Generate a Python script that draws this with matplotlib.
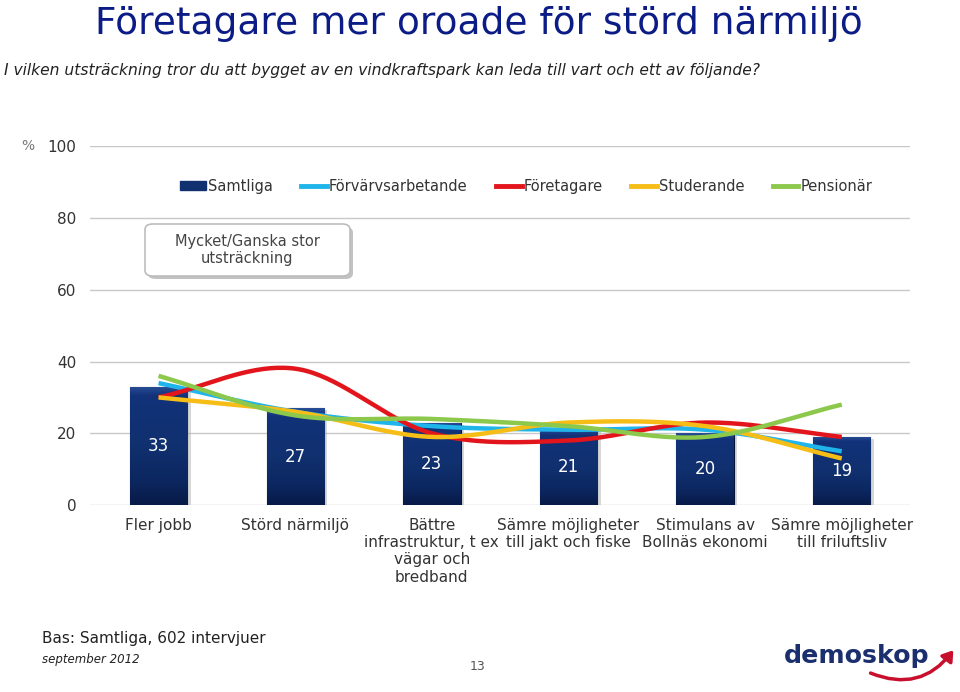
import numpy as np
import matplotlib.pyplot as plt
from matplotlib.colors import LinearSegmentedColormap
from matplotlib.patches import FancyBboxPatch, FancyArrowPatch

plt.rcParams['font.family'] = ['DejaVu Sans']

# data
categories = ['Fler jobb', 'Störd närmiljö', 'Bättre\ninfrastruktur, t ex\nvägar och\nbredband',
              'Sämre möjligheter\ntill jakt och fiske', 'Stimulans av\nBollnäs ekonomi',
              'Sämre möjligheter\ntill friluftsliv']
samtliga = [33, 27, 23, 21, 20, 19]
forvarvsarbetande = [34, 26, 22, 21, 21, 15]
foretagare = [30, 38, 20, 18, 23, 19]
studerande = [30, 26, 19, 23, 22, 13]
pensionar = [36, 25, 24, 22, 19, 28]

series = [('Förvärvsarbetande', forvarvsarbetande, '#1fb4ea'),
          ('Företagare', foretagare, '#e3151c'),
          ('Studerande', studerande, '#f6bd16'),
          ('Pensionär', pensionar, '#8cc84b')]


def smooth(x, y, n=40):
    # catmull-rom drawing of a line, like excel's smoothed lines
    x = np.asarray(x, float)
    y = np.asarray(y, float)
    px = np.concatenate([[2 * x[0] - x[1]], x, [2 * x[-1] - x[-2]]])
    py = np.concatenate([[2 * y[0] - y[1]], y, [2 * y[-1] - y[-2]]])
    xs, ys = [], []
    t = np.linspace(0, 1, n)
    for i in range(1, len(px) - 2):
        for p, out in ((px, xs), (py, ys)):
            p0, p1, p2, p3 = p[i - 1], p[i], p[i + 1], p[i + 2]
            out.extend(0.5 * (2 * p1 + (-p0 + p2) * t + (2 * p0 - 5 * p1 + 4 * p2 - p3) * t ** 2
                              + (-p0 + 3 * p1 - 3 * p2 + p3) * t ** 3))
    return xs, ys


fig = plt.figure(figsize=(9.6, 6.92), dpi=100)
ax = fig.add_axes([0.094, 0.270, 0.854, 0.519])

x = np.arange(len(categories))
bars = ax.bar(x, samtliga, width=0.42, color='#10306f', edgecolor='#061535', linewidth=0.8, zorder=2)

# gradient fill inside the bars (darker at the foot, light band at the top)
cmap = LinearSegmentedColormap.from_list(
    'g', [(0, '#081a47'), (0.2, '#0c2760'), (0.5, '#10306f'), (0.92, '#12327a'), (1, '#2a4f98')])
grad = np.linspace(0, 1, 256).reshape(-1, 1)
for b in bars:
    im = ax.imshow(grad, cmap=cmap, origin='lower',
                   extent=[b.get_x(), b.get_x() + b.get_width(), 0, b.get_height()],
                   aspect='auto', zorder=2.1)
    im.set_clip_path(b)
    ax.bar(b.get_x() + b.get_width() / 2 + 0.025, b.get_height(), width=b.get_width(),
           bottom=-0.6, color='#b0b0b0', alpha=0.5, zorder=1.5)

for xi, v in zip(x, samtliga):
    ax.text(xi, v / 2, str(v), ha='center', va='center', color='white', fontsize=12, zorder=3)

for name, vals, col in series:
    sx, sy = smooth(x, vals)
    ax.plot(sx, sy, color=col, lw=3.2, solid_capstyle='butt', zorder=4)

ax.set_xlim(-0.5, len(categories) - 0.5)
ax.set_ylim(0, 100)
ax.set_yticks([0, 20, 40, 60, 80, 100])
ax.set_xticks(x)
ax.set_xticklabels(categories, fontsize=9.2, color='#111111', va='top', linespacing=1.2)
ax.tick_params(length=0, pad=10, labelsize=11, labelcolor='#333333')
ax.tick_params(axis='x', pad=9)
for s in ax.spines.values():
    s.set_visible(False)
ax.yaxis.grid(True, color='#c8c8c8', lw=1)
ax.set_axisbelow(True)

# legend
handles = [plt.Rectangle((0, 0), 1, 1, color='#10306f')]
labels = ['Samtliga']
for name, vals, col in series:
    handles.append(plt.Line2D([0], [0], color=col, lw=3.5))
    labels.append(name)
ax.legend(handles, labels, loc='center', bbox_to_anchor=(0.532, 0.888), ncol=5, frameon=False,
          fontsize=10.5, handlelength=1.75, handletextpad=0.15, columnspacing=1.95,
          labelcolor='#333333', handleheight=0.5)

# annotation box
box = FancyBboxPatch((145 / 960, 1 - 276 / 692), 205 / 960, 52 / 692,
                     boxstyle='round,pad=0,rounding_size=0.008', transform=fig.transFigure,
                     facecolor='white', edgecolor='#bdbdbd', lw=1.2, zorder=5)
shadow = FancyBboxPatch((148 / 960, 1 - 279 / 692), 205 / 960, 52 / 692,
                        boxstyle='round,pad=0,rounding_size=0.008', transform=fig.transFigure,
                        facecolor='#9a9a9a', edgecolor='none', alpha=0.6, zorder=4.9)
fig.patches.extend([shadow, box])
fig.text(247 / 960, 1 - 250 / 692, 'Mycket/Ganska stor\nutsträckning', ha='center', va='center',
         fontsize=10.5, color='#444444', linespacing=1.15, zorder=6)

fig.text(28 / 960, 1 - 146 / 692, '%', ha='center', va='center', fontsize=10, color='#777777')

# titles
fig.text(95 / 960, 1 - 24 / 692, 'Företagare mer oroade för störd närmiljö', ha='left', va='center',
         fontsize=27, color='#0c1c86')
fig.text(4 / 960, 1 - 70 / 692,
         'I vilken utsträckning tror du att bygget av en vindkraftspark kan leda till vart och ett av följande?',
         ha='left', va='center', fontsize=11.2, style='italic', color='#222222')

# footer
fig.text(42 / 960, 1 - 639 / 692, 'Bas: Samtliga, 602 intervjuer', ha='left', va='center',
         fontsize=11, color='#222222')
fig.text(42 / 960, 1 - 659 / 692, 'september 2012', ha='left', va='center',
         fontsize=8.5, style='italic', color='#222222')
fig.text(478 / 960, 1 - 666 / 692, '13', ha='center', va='center', fontsize=9, color='#555555')

# logo
fig.text(857 / 960, 1 - 656 / 692, 'demoskop', ha='center', va='center', fontsize=18.2,
         fontweight='bold', color='#1b2f6e')
arrow = FancyArrowPatch((868 / 960, 1 - 672 / 692), (955 / 960, 1 - 648 / 692),
                        connectionstyle='arc3,rad=0.4', arrowstyle='-|>,head_width=4,head_length=6',
                        color='#c8102e', lw=2.5, transform=fig.transFigure)
fig.patches.append(arrow)

fig.savefig('out.png', dpi=100)
